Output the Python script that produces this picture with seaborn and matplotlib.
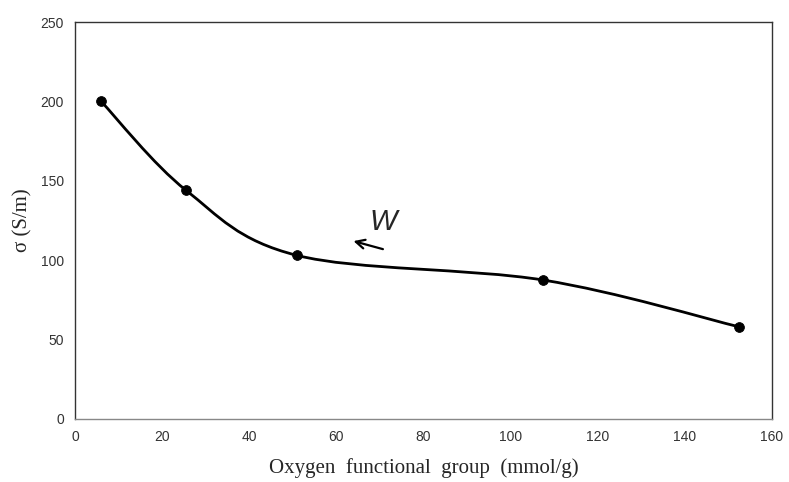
import numpy as np
import pandas as pd
import seaborn as sns
import matplotlib
matplotlib.use("Agg")
import matplotlib.pyplot as plt
from matplotlib.path import Path
from matplotlib.patches import PathPatch

oxygen = [6, 25.5, 51, 107.5, 152.5]
sigma = [200, 144, 103, 87.5, 58]
xticks = [0, 20, 40, 60, 80, 100, 120, 140, 160]
yticks = [0, 50, 100, 150, 200, 250]

df = pd.DataFrame({"oxygen": oxygen, "sigma": sigma})

sns.set_theme(style="white")
plt.rcParams["font.family"] = ["Liberation Sans", "DejaVu Sans"]

fig = plt.figure(figsize=(7.89, 4.82), dpi=100)
ax = fig.add_axes([75/789, 63/482, 697/789, 397/482])

# Smoothed line (Catmull-Rom Bezier like spreadsheet smoothing)
x = np.array(oxygen, dtype=float)
y = np.array(sigma, dtype=float)
n = len(x)
verts = [(x[0], y[0])]
codes = [Path.MOVETO]
t = 1 / 6
for i in range(n - 1):
    x0, y0 = (x[i - 1], y[i - 1]) if i > 0 else (x[i], y[i])
    x3, y3 = (x[i + 2], y[i + 2]) if i + 2 < n else (x[i + 1], y[i + 1])
    c1 = (x[i] + (x[i + 1] - x0) * t, y[i] + (y[i + 1] - y0) * t)
    c2 = (x[i + 1] - (x3 - x[i]) * t, y[i + 1] - (y3 - y[i]) * t)
    verts += [c1, c2, (x[i + 1], y[i + 1])]
    codes += [Path.CURVE4] * 3
ax.add_patch(PathPatch(Path(verts, codes), fill=False, edgecolor="black", lw=2.0, zorder=2))

sns.scatterplot(data=df, x="oxygen", y="sigma", ax=ax, color="black", s=50,
                edgecolor="black", zorder=3, legend=False)

ax.set_xlim(0, 160)
ax.set_ylim(0, 250)
ax.set_xticks(xticks)
ax.set_yticks(yticks)
ax.tick_params(axis="both", length=0, labelsize=10, colors="#333333", pad=8)
for s in ax.spines.values():
    s.set_color("#333333")
    s.set_linewidth(1.0)
ax.spines["bottom"].set_color("#888888")

ax.set_xlabel("Oxygen  functional  group  (mmol/g)", family=["Liberation Serif"], fontsize=15, labelpad=10)
ax.set_ylabel("σ (S/m)", family=["Liberation Serif"], fontsize=15, labelpad=6)

ax.annotate("", xy=(63.3, 112.5), xytext=(71.3, 106.5),
            arrowprops=dict(arrowstyle="->", color="black", lw=1.6, mutation_scale=16))
ax.text(70.8, 124, "W", fontsize=21, style="italic", ha="center", va="center",
        family=["Liberation Sans"], fontweight="light")

fig.savefig("out.png", dpi=100)
